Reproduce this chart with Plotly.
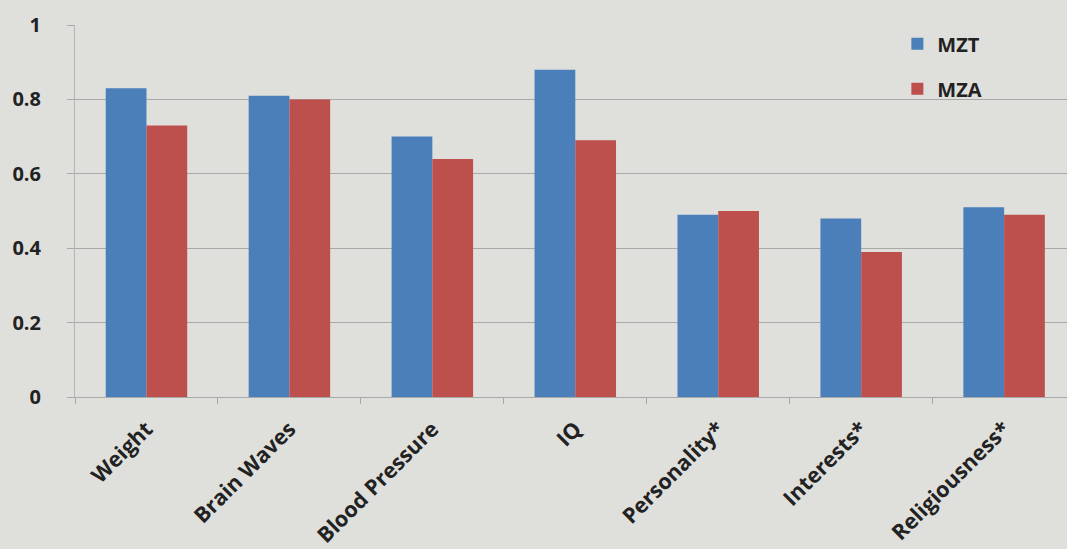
import plotly.graph_objects as go

categories = ["Weight", "Brain Waves", "Blood Pressure", "IQ", "Personality*", "Interests*", "Religiousness*"]
mzt = [0.83, 0.81, 0.70, 0.88, 0.49, 0.48, 0.51]
mza = [0.73, 0.80, 0.64, 0.69, 0.50, 0.39, 0.49]
y_ticks = [0, 0.2, 0.4, 0.6, 0.8, 1]
y_tick_labels = ["0", "0.2", "0.4", "0.6", "0.8", "1"]

bg = "#dfdfdc"
fnt = "Open Sans"
fig = go.Figure()
fig.add_trace(go.Bar(name="MZT", x=categories, y=mzt, marker_color="#4a7fba",
                     marker_line_width=0, legendgroup="a"))
fig.add_trace(go.Bar(name="MZA", x=categories, y=mza, marker_color="#bd4f4c",
                     marker_line_width=0, legendgroup="b"))

fig.update_layout(
    width=1067, height=549,
    margin=dict(l=75, r=0, t=25, b=152, autoexpand=False),
    paper_bgcolor=bg, plot_bgcolor=bg,
    barmode="group", bargap=0.43, bargroupgap=0,
    font=dict(family=fnt, color="#222222"),
    legend=dict(x=0.829, y=1.002, xanchor="left", yanchor="top",
                bgcolor="rgba(0,0,0,0)", tracegroupgap=16,
                font=dict(size=20, family=fnt, weight="bold", color="#222222"),
                itemwidth=30),
    xaxis=dict(range=[-0.5, 6.44], showline=True, linecolor="#a9a9a9", linewidth=1,
               ticks="outside", tickson="boundaries", ticklen=6, tickcolor="#a9a9a9",
               tickangle=-45, ticklabelstandoff=10, automargin=False,
               tickfont=dict(size=21.5, family=fnt, weight="bold", color="#222222"),
               showgrid=False),
    yaxis=dict(range=[0, 1], tickvals=y_ticks, ticktext=y_tick_labels,
               showline=True, linecolor="#b5b5b5", linewidth=1,
               ticks="outside", ticklen=7, tickcolor="#a9a9a9",
               showgrid=True, gridcolor="#a9a9a9", gridwidth=1,
               zeroline=False, ticklabelstandoff=22, automargin=False,
               tickfont=dict(size=20, family=fnt, weight="bold", color="#222222")),
)

fig.write_html("out.html")
